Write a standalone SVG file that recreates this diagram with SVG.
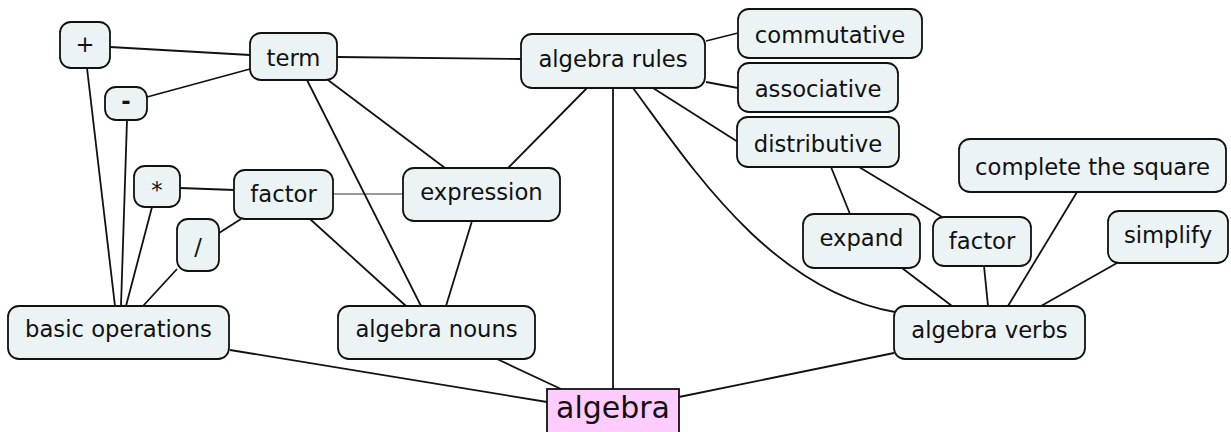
<svg xmlns="http://www.w3.org/2000/svg" width="1231" height="432" viewBox="0 0 1231 432">
  <style>
    .node rect { fill: #ebf3f5; stroke: #111; stroke-width: 1.8; }
    .node text { font-family: "DejaVu Sans", Verdana, sans-serif; font-size: 22.7px; fill: #111; text-anchor: middle; }
    #root rect { fill: #ffccff; stroke: #111; stroke-width: 1.8; }
    #root text { font-size: 30px; }
    .links line, .links path { stroke: #111; stroke-width: 1.8; fill: none; }
    .links .soft { stroke: #999; }
  </style>

  <!-- connectors -->
  <g class="links">
    <line x1="110" y1="47" x2="250" y2="55"/>
    <line x1="147" y1="97" x2="250" y2="69"/>
    <line x1="87" y1="68" x2="115" y2="306"/>
    <line x1="127" y1="120" x2="121" y2="306"/>
    <line x1="152" y1="207" x2="126" y2="306"/>
    <line x1="177" y1="269" x2="143" y2="306"/>
    <line x1="180" y1="188" x2="234" y2="190"/>
    <line x1="219" y1="233" x2="241" y2="219"/>
    <line class="soft" x1="333" y1="194" x2="403" y2="194"/>
    <line x1="310" y1="219" x2="406" y2="306"/>
    <line x1="307" y1="80" x2="421" y2="306"/>
    <line x1="328" y1="80" x2="445" y2="168"/>
    <line x1="337" y1="57" x2="521" y2="59"/>
    <line x1="472" y1="221" x2="446" y2="306"/>
    <line x1="587" y1="88" x2="508" y2="168"/>
    <line x1="613" y1="88" x2="613" y2="389"/>
    <path d="M633,88 C690,165 770,290 895,312"/>
    <line x1="706" y1="41" x2="738" y2="33"/>
    <line x1="706" y1="82" x2="738" y2="88"/>
    <line x1="653" y1="88" x2="738" y2="142"/>
    <line x1="831" y1="167" x2="850" y2="214"/>
    <line x1="859" y1="167" x2="942" y2="217"/>
    <line x1="1077" y1="192" x2="1008" y2="306"/>
    <line x1="902" y1="268" x2="952" y2="306"/>
    <line x1="984" y1="266" x2="988" y2="306"/>
    <line x1="1117" y1="263" x2="1041" y2="306"/>
    <line x1="894" y1="353" x2="679" y2="397"/>
    <line x1="230" y1="350" x2="547" y2="402"/>
    <line x1="497" y1="359" x2="561" y2="389"/>
  </g>

  <!-- nodes -->
  <g id="plus" class="node"><rect x="60" y="22" width="50" height="46" rx="11"/><text x="85" y="52">+</text></g>
  <g id="minus" class="node"><rect x="105" y="87" width="42" height="33" rx="11"/><text x="126" y="109" style="font-weight:bold">-</text></g>
  <g id="term" class="node"><rect x="250" y="33" width="87" height="47" rx="11"/><text x="293.5" y="66">term</text></g>
  <g id="times" class="node"><rect x="134" y="166" width="46" height="41" rx="11"/><text x="157" y="198">*</text></g>
  <g id="factor-noun" class="node"><rect x="234" y="170" width="99" height="49" rx="11"/><text x="283.5" y="202">factor</text></g>
  <g id="divide" class="node"><rect x="177" y="219" width="42" height="52" rx="11"/><text x="198" y="255">/</text></g>
  <g id="basic-operations" class="node"><rect x="8" y="306" width="221" height="53" rx="11"/><text x="118.5" y="337">basic operations</text></g>
  <g id="algebra-nouns" class="node"><rect x="338" y="306" width="197" height="53" rx="11"/><text x="436.5" y="337">algebra nouns</text></g>
  <g id="expression" class="node"><rect x="403" y="168" width="157" height="53" rx="11"/><text x="481.5" y="200">expression</text></g>
  <g id="algebra-rules" class="node"><rect x="521" y="34" width="184" height="54" rx="11"/><text x="613" y="67">algebra rules</text></g>
  <g id="commutative" class="node"><rect x="738" y="9" width="184" height="49" rx="11"/><text x="830" y="43">commutative</text></g>
  <g id="associative" class="node"><rect x="738" y="63" width="160" height="49" rx="11"/><text x="818" y="97">associative</text></g>
  <g id="distributive" class="node"><rect x="737" y="117" width="162" height="50" rx="11"/><text x="818" y="152">distributive</text></g>
  <g id="complete-the-square" class="node"><rect x="959" y="139" width="267" height="53" rx="11"/><text x="1092.5" y="175">complete the square</text></g>
  <g id="expand" class="node"><rect x="803" y="214" width="117" height="54" rx="11"/><text x="861.5" y="246">expand</text></g>
  <g id="factor-verb" class="node"><rect x="933" y="217" width="98" height="49" rx="11"/><text x="982" y="249">factor</text></g>
  <g id="simplify" class="node"><rect x="1108" y="211" width="120" height="52" rx="11"/><text x="1168" y="243">simplify</text></g>
  <g id="algebra-verbs" class="node"><rect x="894" y="306" width="191" height="53" rx="11"/><text x="989.5" y="338">algebra verbs</text></g>
  <g id="root" class="node"><rect x="547" y="389" width="132" height="52"/><text x="613" y="418">algebra</text></g>
</svg>
